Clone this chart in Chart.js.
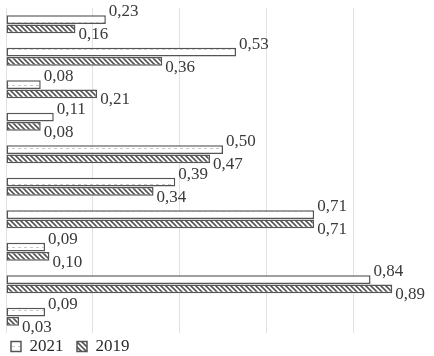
<!DOCTYPE html>
<html>
<head>
<meta charset="utf-8">
<script src="https://cdn.jsdelivr.net/npm/chart.js@4.4.1/dist/chart.umd.min.js"></script>
<style>
  html, body { margin: 0; padding: 0; background: #fff; overflow: hidden; }
  #wrap { width: 440px; height: 356px; overflow: hidden; }
</style>
</head>
<body>
<div id="wrap"><canvas id="chart" width="440" height="365"></canvas></div>
<script>
const categories = ["1", "2", "3", "4", "5", "6", "7", "8", "9", "10"];
const values2021 = [0.23, 0.53, 0.08, 0.11, 0.50, 0.39, 0.71, 0.09, 0.84, 0.09];
const values2019 = [0.16, 0.36, 0.21, 0.08, 0.47, 0.34, 0.71, 0.10, 0.89, 0.03];
const seriesNames = ["2021", "2019"];

// light dotted fill for 2021
function dotPattern() {
  const c = document.createElement("canvas");
  c.width = 6; c.height = 9;
  const g = c.getContext("2d");
  g.fillStyle = "#fff";
  g.fillRect(0, 0, 6, 9);
  g.fillStyle = "#c8c8c8";
  g.fillRect(0, 4, 3, 1);
  return g.createPattern(c, "repeat");
}

// diagonal hatching for 2019
function hatchPattern() {
  const c = document.createElement("canvas");
  c.width = 5; c.height = 5;
  const g = c.getContext("2d");
  g.fillStyle = "#fff";
  g.fillRect(0, 0, 5, 5);
  g.strokeStyle = "#555";
  g.lineWidth = 1.6;
  g.beginPath();
  g.moveTo(-1, -1); g.lineTo(6, 6);
  g.moveTo(-6, -1); g.lineTo(1, 6);
  g.moveTo(4, -1); g.lineTo(11, 6);
  g.stroke();
  return g.createPattern(c, "repeat");
}

const fmt = (v) => v.toFixed(2).replace(".", ",");

const valueLabels = {
  id: "valueLabels",
  afterDatasetsDraw(chart) {
    const ctx = chart.ctx;
    ctx.save();
    ctx.font = "17px 'Liberation Serif', serif";
    ctx.fillStyle = "#3a3a3a";
    ctx.textBaseline = "middle";
    ctx.textAlign = "left";
    chart.data.datasets.forEach((ds, di) => {
      const meta = chart.getDatasetMeta(di);
      meta.data.forEach((bar, i) => {
        const dy = di === 0 ? -8 : 6;
        ctx.fillText(fmt(ds.data[i]), bar.x + 3, bar.y + dy);
      });
    });
    ctx.restore();
  }
};

new Chart(document.getElementById("chart").getContext("2d"), {
  type: "bar",
  data: {
    labels: categories,
    datasets: [
      {
        label: seriesNames[0],
        data: values2021,
        backgroundColor: dotPattern(),
        borderColor: "#555",
        borderWidth: 1.5,
        borderSkipped: false,
      },
      {
        label: seriesNames[1],
        data: values2019,
        backgroundColor: hatchPattern(),
        borderColor: "#555",
        borderWidth: 1.5,
        borderSkipped: false,
      },
    ],
  },
  options: {
    indexAxis: "y",
    responsive: false,
    animation: false,
    maintainAspectRatio: false,
    layout: { padding: { left: 6, right: 0, top: 8, bottom: 0 } },
    datasets: { bar: { categoryPercentage: 0.56, barPercentage: 0.97 } },
    scales: {
      x: {
        min: 0,
        max: 1,
        ticks: { display: false, stepSize: 0.2 },
        grid: { color: "#e2e2e2", lineWidth: 1, drawTicks: false },
        border: { display: false },
      },
      y: { display: false },
    },
    plugins: {
      legend: {
        position: "bottom",
        align: "start",
        labels: {
          boxWidth: 10,
          boxHeight: 10,
          padding: 5,
          color: "#2a2a2a",
          font: { family: "'Liberation Serif', serif", size: 17 },
          generateLabels(chart) {
            const items = Chart.defaults.plugins.legend.labels.generateLabels(chart);
            items.forEach((it) => { it.text = it.text + "  "; });
            return items;
          },
        },
      },
      tooltip: { enabled: false },
    },
  },
  plugins: [valueLabels],
});
</script>
</body>
</html>
